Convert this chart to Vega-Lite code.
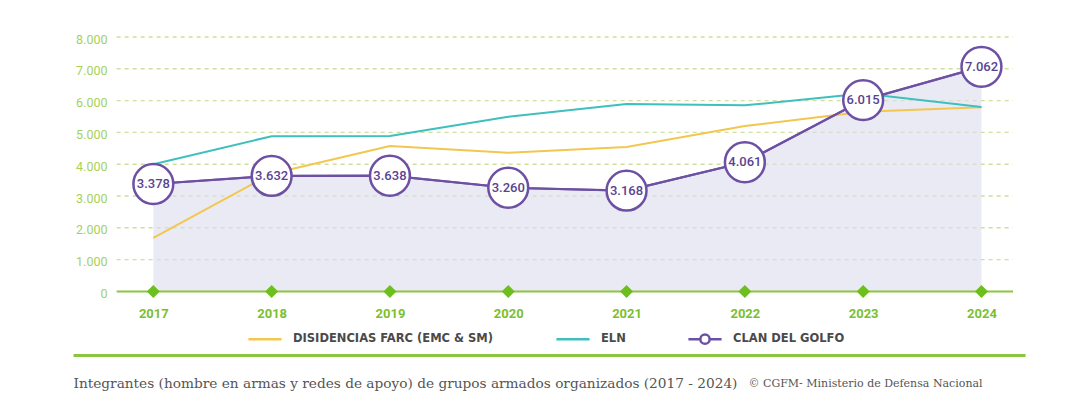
{
  "$schema": "https://vega.github.io/schema/vega-lite/v6.json",
  "width": 952,
  "height": 318,
  "autosize": "none",
  "padding": {"left": 73, "top": 37, "right": 42, "bottom": 63},
  "background": "white",
  "config": {
    "view": {"stroke": null},
    "axis": {"labelOverlap": false, "labelSeparation": 0},
    "locale": {"number": {"decimal": ",", "thousands": ".", "grouping": [3], "currency": ["$", ""]}}
  },
  "datasets": {
    "series": [
      {"year": 2017, "series": "DISIDENCIAS FARC (EMC & SM)", "value": 1680},
      {"year": 2018, "series": "DISIDENCIAS FARC (EMC & SM)", "value": 3700},
      {"year": 2019, "series": "DISIDENCIAS FARC (EMC & SM)", "value": 4570},
      {"year": 2020, "series": "DISIDENCIAS FARC (EMC & SM)", "value": 4360},
      {"year": 2021, "series": "DISIDENCIAS FARC (EMC & SM)", "value": 4540},
      {"year": 2022, "series": "DISIDENCIAS FARC (EMC & SM)", "value": 5200},
      {"year": 2023, "series": "DISIDENCIAS FARC (EMC & SM)", "value": 5650},
      {"year": 2024, "series": "DISIDENCIAS FARC (EMC & SM)", "value": 5790},
      {"year": 2017, "series": "ELN", "value": 4000},
      {"year": 2018, "series": "ELN", "value": 4880},
      {"year": 2019, "series": "ELN", "value": 4890},
      {"year": 2020, "series": "ELN", "value": 5490},
      {"year": 2021, "series": "ELN", "value": 5890},
      {"year": 2022, "series": "ELN", "value": 5850},
      {"year": 2023, "series": "ELN", "value": 6220},
      {"year": 2024, "series": "ELN", "value": 5800},
      {"year": 2017, "series": "CLAN DEL GOLFO", "value": 3378},
      {"year": 2018, "series": "CLAN DEL GOLFO", "value": 3632},
      {"year": 2019, "series": "CLAN DEL GOLFO", "value": 3638},
      {"year": 2020, "series": "CLAN DEL GOLFO", "value": 3260},
      {"year": 2021, "series": "CLAN DEL GOLFO", "value": 3168},
      {"year": 2022, "series": "CLAN DEL GOLFO", "value": 4061},
      {"year": 2023, "series": "CLAN DEL GOLFO", "value": 6015},
      {"year": 2024, "series": "CLAN DEL GOLFO", "value": 7062}
    ],
    "grid": [
      {"v": 1000}, {"v": 2000}, {"v": 3000}, {"v": 4000},
      {"v": 5000}, {"v": 6000}, {"v": 7000}, {"v": 8000}
    ]
  },
  "layer": [
    {
      "data": {"name": "grid"},
      "mark": {"type": "rule", "stroke": "#cfe09a", "strokeWidth": 1.4, "strokeDash": [4, 4]},
      "encoding": {
        "y": {
          "field": "v", "type": "quantitative",
          "scale": {"domain": [-2000, 8000], "nice": false, "zero": false},
          "axis": {
            "offset": -43, "domain": false, "ticks": false, "grid": false,
            "values": [0, 1000, 2000, 3000, 4000, 5000, 6000, 7000, 8000], "tickCount": 20,
            "format": ",d", "labelPadding": 9, "labelOffset": 2, "labelOverlap": false,
            "labelFont": "Roboto", "labelFontSize": 12.5, "labelColor": "#a6d15b",
            "title": "© CGFM- Ministerio de Defensa Nacional",
            "titleAngle": 0, "titleX": 632, "titleY": 346, "titleAlign": "left", "titleBaseline": "middle",
            "titleFont": "DejaVu Serif", "titleFontSize": 11, "titleFontWeight": "normal", "titleColor": "#555555"
          }
        },
        "x": {"datum": 2016.69, "type": "quantitative", "scale": {"domain": [2016.321, 2024.368], "nice": false, "zero": false}},
        "x2": {"datum": 2024.267}
      }
    },
    {
      "data": {"name": "series"},
      "transform": [{"filter": "datum.series === 'CLAN DEL GOLFO'"}],
      "mark": {"type": "area", "fill": "#dcdcee", "opacity": 0.6},
      "encoding": {
        "x": {
          "field": "year", "type": "quantitative",
          "scale": {"domain": [2016.321, 2024.368], "nice": false, "zero": false},
          "axis": {
            "values": [2017, 2018, 2019, 2020, 2021, 2022, 2023, 2024], "format": "d", "tickCount": 30,
            "domainColor": "#8cc63f", "domainWidth": 3, "ticks": false, "grid": false,
            "labelPadding": -42, "labelBaseline": "middle", "labelFlush": false, "labelOverlap": false,
            "labelFont": "Roboto", "labelFontWeight": "bold", "labelFontSize": 13, "labelColor": "#7cbf2e",
            "title": "Integrantes (hombre en armas y redes de apoyo) de grupos armados organizados (2017 - 2024)",
            "titleX": 0, "titleY": 28, "titleAlign": "left", "titleBaseline": "middle",
            "titleFont": "DejaVu Serif", "titleFontSize": 13.7, "titleFontWeight": "normal", "titleColor": "#555555"
          }
        },
        "y": {"field": "value", "type": "quantitative", "scale": {"domain": [-2000, 8000], "nice": false, "zero": false}},
        "y2": {"datum": 0}
      }
    },
    {
      "data": {"values": [{"k": 1}]},
      "mark": {"type": "rule", "stroke": "#8cc63f", "strokeWidth": 2},
      "encoding": {
        "y": {"datum": 0, "type": "quantitative", "scale": {"domain": [-2000, 8000], "nice": false, "zero": false}},
        "x": {"datum": 2016.69, "type": "quantitative", "scale": {"domain": [2016.321, 2024.368], "nice": false, "zero": false}},
        "x2": {"datum": 2024.267}
      }
    },
    {
      "data": {"name": "series"},
      "transform": [{"filter": "datum.series === 'CLAN DEL GOLFO'"}],
      "mark": {"type": "point", "shape": "diamond", "filled": true, "fill": "#6dbf1e", "opacity": 1, "size": 170},
      "encoding": {
        "x": {"field": "year", "type": "quantitative", "scale": {"domain": [2016.321, 2024.368], "nice": false, "zero": false}},
        "y": {"datum": 0, "type": "quantitative", "scale": {"domain": [-2000, 8000], "nice": false, "zero": false}}
      }
    },
    {
      "data": {"name": "series"},
      "mark": {"type": "line", "strokeWidth": 2},
      "encoding": {
        "x": {"field": "year", "type": "quantitative", "scale": {"domain": [2016.321, 2024.368], "nice": false, "zero": false}},
        "y": {"field": "value", "type": "quantitative", "scale": {"domain": [-2000, 8000], "nice": false, "zero": false}},
        "color": {
          "field": "series", "type": "nominal",
          "scale": {"domain": ["DISIDENCIAS FARC (EMC & SM)", "ELN", "CLAN DEL GOLFO"], "range": ["#f3c74f", "#3fbfbd", "#6d50a3"]},
          "legend": {
            "orient": "none", "legendX": 174, "legendY": 284, "direction": "horizontal", "title": null,
            "symbolType": "stroke", "symbolSize": 1100, "symbolStrokeWidth": 2.5,
            "labelFont": "DejaVu Sans", "labelFontWeight": "bold", "labelFontSize": 11.5, "labelColor": "#4a4a4a",
            "columnPadding": 57, "labelOffset": 10, "labelLimit": 400,
            "encode": {
              "symbols": {
                "update": {
                  "shape": {"signal": "datum.value === 'CLAN DEL GOLFO' ? 'M-1,0H-0.28M0.28,0H1M0.28,0A0.28,0.28,0,1,1,-0.28,0A0.28,0.28,0,1,1,0.28,0' : 'M0,-0.28M0,0.28M-1,0H1'"}
                }
              }
            }
          }
        }
      }
    },
    {
      "data": {"name": "series"},
      "transform": [{"filter": "datum.series === 'CLAN DEL GOLFO'"}],
      "mark": {"type": "line", "strokeWidth": 2.2, "stroke": "#6d50a3"},
      "encoding": {
        "x": {"field": "year", "type": "quantitative", "scale": {"domain": [2016.321, 2024.368], "nice": false, "zero": false}},
        "y": {"field": "value", "type": "quantitative", "scale": {"domain": [-2000, 8000], "nice": false, "zero": false}}
      }
    },
    {
      "data": {"name": "series"},
      "transform": [{"filter": "datum.series === 'CLAN DEL GOLFO'"}],
      "mark": {"type": "point", "filled": false, "fill": "white", "fillOpacity": 1, "stroke": "#6d50a3", "strokeWidth": 2.5, "opacity": 1, "size": 1590},
      "encoding": {
        "x": {"field": "year", "type": "quantitative", "scale": {"domain": [2016.321, 2024.368], "nice": false, "zero": false}},
        "y": {"field": "value", "type": "quantitative", "scale": {"domain": [-2000, 8000], "nice": false, "zero": false}}
      }
    },
    {
      "data": {"name": "series"},
      "transform": [{"filter": "datum.series === 'CLAN DEL GOLFO'"}],
      "mark": {"type": "text", "font": "Roboto", "fontSize": 13, "fontWeight": 500, "fill": "#5a4391", "baseline": "middle", "align": "center"},
      "encoding": {
        "x": {"field": "year", "type": "quantitative", "scale": {"domain": [2016.321, 2024.368], "nice": false, "zero": false}},
        "y": {"field": "value", "type": "quantitative", "scale": {"domain": [-2000, 8000], "nice": false, "zero": false}},
        "text": {"field": "value", "type": "quantitative", "format": ",d"}
      }
    }
  ]
}
